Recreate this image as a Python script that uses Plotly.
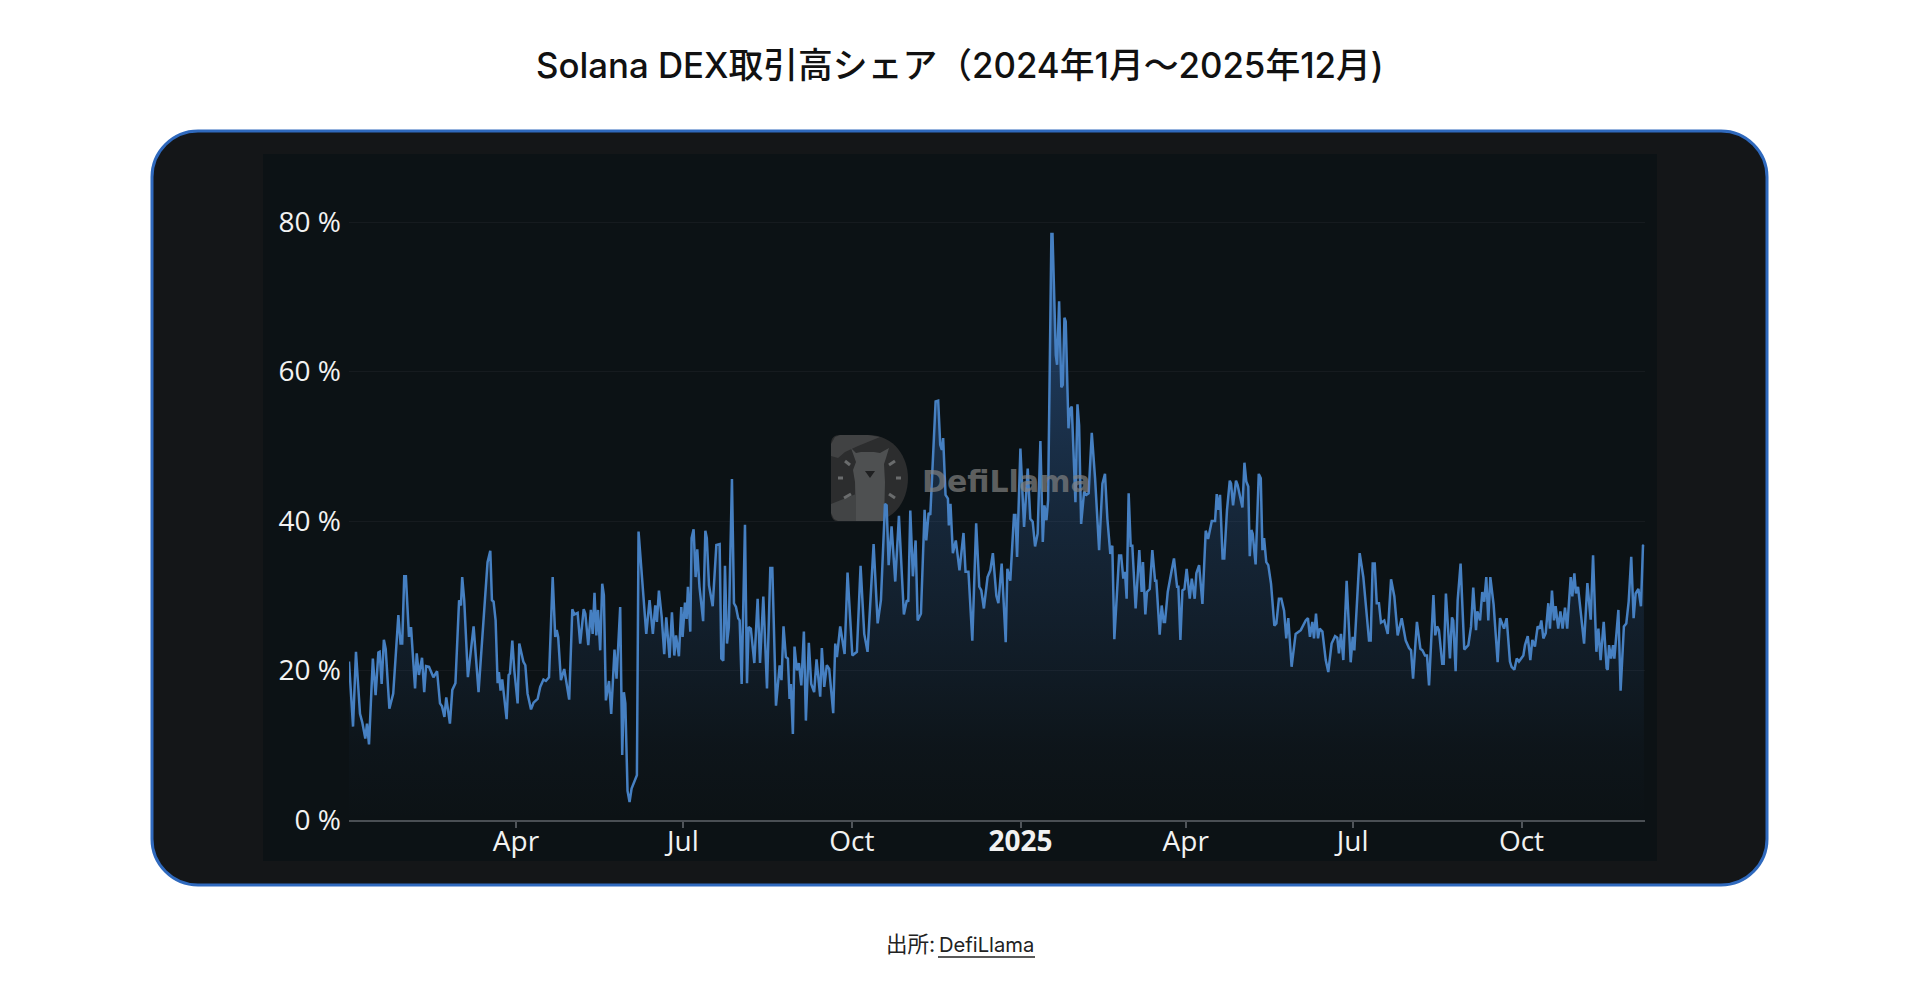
import pandas as pd
import plotly.graph_objects as go

W, H = 1920, 1001

TITLE = "Solana DEX取引高シェア（2024年1月〜2025年12月)"
START = "2024-01-01"
X_TICK_DATES = ["2024-04-01", "2024-07-01", "2024-10-01", "2025-01-01", "2025-04-01", "2025-07-01", "2025-10-01"]
X_TICK_LABELS = ["Apr", "Jul", "Oct", "<b>2025</b>", "Apr", "Jul", "Oct"]
Y_TICK_VALUES = [0, 20, 40, 60, 80]
Y_TICK_LABELS = ["0 %", "20 %", "40 %", "60 %", "80 %"]

days_2024_h1 = [0,2.2,3.8,6,7.2,8.9,9.8,10.9,13,14.5,16,16.7,17.8,19,20,22,24.1,26.9,28.1,29,30.1,31,32.7,33.8,36,36.9,38.1,39.8,41,42,43.6,46,48,49.6,50.7,52,53,55,56.3,58,60,61,61.7,62.8,64.8,66.5,67.9,70.6,73.4,75.5,77,77.9,78.8,79.9,81,81.7,82.6,83.5,85.9,87,87.7,89,90.1,91.9,92.8,95,96.1,97.3,99.2,100.6,102.8,104.2,106,107.3,109,111,112.4,113.2,114,115.5,117.3,120,121.7,122.8,124.6,126,127.9,128.8,130.4,131.8,132.8,133.8,134.8,135.7,136.9,138,138.9,140,141.7,142.9,144.7,145.8,147.8,148.9,149.8,150.6,151.8,152.9,154,155.8,156.9,157.8,159.1,160.4,162,163.8,165.6,166.9,167.8,168.9,170.4,171.8,172.9,174.7,176,177.3,178.2,179.8,181.1,181.8]
share_2024_h1 = [21.2,12.5,22.5,14.2,13.1,10.9,12.9,10.1,21.6,16.7,22.4,22.5,18.2,24.1,22.9,14.9,16.9,27.4,23.6,23.6,32.6,32.6,24.5,25.8,17.6,22.3,19.4,21.7,17.1,20.6,20.5,19.1,19.9,15.6,15.2,13.8,16.4,12.9,17.4,18.3,29.4,28.7,32.5,29.4,19.1,22.9,25.9,17.1,26.7,34.5,36,29.4,29.2,26.7,18.3,19.8,17.3,18.8,13.5,19.4,19.6,24,20,15.6,23.6,21.2,20.7,16.9,14.8,15.7,16.2,17.8,18.8,18.6,19.1,32.5,24.5,25.4,24.5,18.7,20.2,16.1,28.2,27.5,27.7,23.6,28.2,27.6,23.4,28.1,24.9,30.4,24.7,28.1,22.7,31.6,30.1,16,18.6,14.2,22.8,18.9,28.5,8.7,17.1,15.6,3.9,2.4,4.2,5.5,6,38.6,34.3,29.4,24.9,29.4,24.9,28.7,26.5,30.7,27.2,22.2,27.1,21.7,27.8,22,24.7,21.9,28.5,24.5]

days_2024_h2 = [183.1,184,184.7,186,186.7,187.8,188.9,189.8,191,193,194.2,195,196.2,198.2,200.2,202,202.9,204,204.9,206,207,208.7,209.8,210.9,212.1,212.9,214,215.8,216.9,217.8,219,220.9,222.7,224,225.8,227.8,229.6,230.7,232.7,234.7,235.7,236.8,238.1,239.2,240.1,240.8,241.9,242.8,244.1,245.2,246.5,247.9,249,250.6,251.9,253.5,254.8,256.8,257.7,259,260.4,261.7,263.9,265,265.9,267.7,268.6,270.1,271.7,272.8,274.3,276.8,278.8,280.8,282.6,285.9,288.1,289.9,292.1,293,294.1,295.7,297.7,299.7,302.4,304,304.8,305.9,307.3,308.8,309.9,311.7,313.7,314.6,315.9,316.8,318.6,319.7,321.1,322.2,323.1,323.8,325.1,326.4,326.9,327.8,329.1,330.7,332.7,334.9,336,337.6,339.7,341.8,343.5,344.6,346,348,349.5,350.9,352.8,353.9,355.7,357.9,358.8,360.4,362.4,363.2,364.1]
share_2024_h2 = [29.1,26.9,31.2,25.2,37.7,38.9,32.5,36.2,31.2,26.6,38.7,37.7,31.4,28.6,36.8,36.9,21.6,21.3,34,23.6,25.8,45.6,29,28.5,27,26.7,18.2,39.5,18.3,25.8,25.6,21,29.6,21,29.9,17.6,33.7,33.7,15.3,20.7,18.7,25.9,21.8,21.6,16.2,18.2,11.5,23.2,20,21,18,25.2,13.3,23.7,18.2,17.1,21.5,16.5,23,17.8,20.7,20.2,14.3,23.6,21.8,25.9,24.7,22.2,33.1,29,22,22.5,34,24.9,22.5,36.9,26.3,29.4,42.3,42.1,34.1,39.3,31.9,40.7,27.5,29.4,29.2,41.4,32.6,37.4,26.7,27.6,41.5,37.4,41.1,40.8,50.8,56,56.1,50.2,49.5,51.1,43.5,43,39.4,42.3,35.7,37.4,33.4,38.4,33.2,33.2,24,39.7,31.2,30.7,28.3,32.5,33.4,35.7,30,29,34.3,23.8,33.6,32,40.8,40.8,35.2]

days_2025_h1 = [365.9,367.9,369.9,371.3,372.6,373.9,375.3,376.8,378.1,379,380.1,381,382.8,383.4,385.2,385.9,387,388.2,389,389.9,390.6,392.1,393,393.9,395.9,397,397.9,399,400.6,401.9,403.1,404.8,406.6,408.8,410.6,412,413.3,414.9,416,417.1,419.7,420.8,422,422.9,423.8,424.9,426,426.9,428.7,430.7,432,432.7,434,434.9,436.4,437.8,439.3,440,441.8,442.9,444,444.7,446.2,448.2,449.6,451.3,452,453.1,454.2,455.3,456.5,458.2,459.3,460.9,461.8,463.3,465.1,466.9,468.2,470.2,472,472.9,473.8,474.7,476.1,477,478.5,480,480.7,481.8,483.4,484.3,486.9,488,489,490.1,490.9,491.8,492.5,494.1,495.8,496.9,497.8,498.7,499.9,501,502.5,504.3,505.4,506.8,508.1,509.6,510.8,511.9,513.7,515.9,516.8,518.7,521.4,522.6,523.7,525,525.9,527,528.1,529,530.5,532.3,533.7,535.5,537.4,538.6,539.5,540.6,541.9,543.7]
share_2025_h1 = [49.7,39.2,47,40.3,39.9,36.6,38.3,50.7,37.2,42.1,40.1,42.8,78.4,78.4,62.2,60.9,69.4,57.9,58.2,67.2,66.7,52.4,55,55.3,42.5,55.6,52.8,39.6,43.9,43.5,43.7,51.8,45.7,36.1,45,46.3,40.3,35.6,36.7,24.2,35.4,35.4,32.3,33.2,29.6,43.7,36.7,36.7,28.3,36.1,30.5,34.5,27.5,30.5,30.9,36.1,32,32,24.8,28.7,26.5,26.5,30.5,33.2,35,31.2,31.2,24.1,30.7,30.9,33.6,29.6,32.3,29.6,33,34.1,28.9,38.7,37.6,40,40,43.6,41.5,43.5,35,35,41.5,45.4,45,42.1,45.4,44.8,41.8,47.8,45.3,44.6,35.3,38.8,38.3,34.2,46.3,45.7,36.1,37.7,34.5,34.1,31.6,26,26.3,29.6,29.6,28,24.3,27,20.5,24.9,25.1,25.4,26.7,27,24.5,26.5,24.3,27.6,24.3,25.6,25.2,21.4,19.8,23.6,24.6,24.4,22.3,24.9,21.4,32]

days_2025_h2 = [545.9,547,547.9,550.8,552.8,554.3,555.9,556.8,557.9,559,560.1,561.3,562.4,564.2,566.1,567.9,569.7,571.5,573.7,575.9,577.7,578.8,579.9,582,583.9,585,586.4,587.5,588.6,591,592,593,594,595.8,596.6,597.8,600,601.1,601.8,603.1,604.2,605.8,607.8,610,611.5,612.7,614.2,614.9,616.4,617.6,618.7,619.8,620.9,622,623.8,626,627.3,629.5,630.9,632.7,633.6,635.1,636.4,637.6,640,640.9,642.4,643.8,644.9,646.3,647.8,648.9,649.8,650.9,652.2,653.6,654.5,655.6,656.7,657.6,659,660.2,661.4,662.7,663.9,665.8,666.7,667.8,668.7,669.8,671.2,673.1,674.9,676.7,678,679.8,680.9,682.1,683.8,685.4,686,686.7,687.8,688.9,689.6,691.8,693,694.8,696.1,697.4,698.8,700.1,701.2,702.7,704.1,705.2,705.7]
share_2025_h2 = [21.1,24.5,22.7,35.7,32.5,28.5,24,24,34.3,34.3,29,29,26.4,26.7,24.9,32.2,29.9,24.7,27,24,23,22.7,18.9,26.5,22.9,22.7,22,22,18,30.1,24.7,25.9,25.4,20.9,20.9,30.3,21.6,27.1,26.7,19.9,29.4,34.3,22.8,23.4,25.9,31.1,25.4,27.9,26.7,30.5,29.2,32.5,26.7,32.5,28.8,21.1,27,25.6,27,21.2,20.5,20.1,21.6,21.2,22,23.4,24.6,21.4,24.1,23.2,25.9,25.6,26.7,24.3,25,29,25.6,30.7,26.7,28.6,25.6,27.9,25.6,28.4,25.6,32.5,29.9,33,30.3,31.2,28.1,23.6,31.7,26.8,35.4,22.5,25.6,21.4,26.5,20.3,20.1,23.4,21.6,23.4,21.6,28.1,17.3,25.9,26.3,29.2,35.2,27,30.3,30.9,28.6,36.7,36.8]

days = days_2024_h1 + days_2024_h2 + days_2025_h1 + days_2025_h2
share = share_2024_h1 + share_2024_h2 + share_2025_h1 + share_2025_h2
dates = (pd.Timestamp(START) + pd.to_timedelta(days, unit="D")).strftime("%Y-%m-%d %H:%M").tolist()
x_end = (pd.Timestamp(START) + pd.to_timedelta(706.3, unit="D")).strftime("%Y-%m-%d %H:%M")

# page layout, in pixels of the 1920x1001 window
PLOT_L, PLOT_R, PLOT_T, PLOT_B = 349, 1645, 162, 820
Y_MAX = (PLOT_B - PLOT_T) / 7.475

def fx(x):
    return x / W

def fy(y):
    return 1 - y / H

def rounded(l, t, r, b, rad):
    k = rad * 0.45
    pts = [
        f"M {fx(l+rad)},{fy(t)}", f"L {fx(r-rad)},{fy(t)}",
        f"C {fx(r-k)},{fy(t)} {fx(r)},{fy(t+k)} {fx(r)},{fy(t+rad)}",
        f"L {fx(r)},{fy(b-rad)}",
        f"C {fx(r)},{fy(b-k)} {fx(r-k)},{fy(b)} {fx(r-rad)},{fy(b)}",
        f"L {fx(l+rad)},{fy(b)}",
        f"C {fx(l+k)},{fy(b)} {fx(l)},{fy(b-k)} {fx(l)},{fy(b-rad)}",
        f"L {fx(l)},{fy(t+rad)}",
        f"C {fx(l)},{fy(t+k)} {fx(l+k)},{fy(t)} {fx(l+rad)},{fy(t)} Z",
    ]
    return " ".join(pts)

def poly(points):
    return "M " + " L ".join(f"{fx(x)},{fy(y)}" for x, y in points) + " Z"

def pshape(path, fill, line=None, width=0, layer="below"):
    return dict(type="path", xref="paper", yref="paper", path=path, fillcolor=fill,
                line=dict(color=line or fill, width=width), layer=layer)

def pline(x0, y0, x1, y1, color, width):
    return dict(type="line", xref="paper", yref="paper", x0=fx(x0), y0=fy(y0), x1=fx(x1), y1=fy(y1),
                line=dict(color=color, width=width), layer="below")

shapes = [
    pshape(rounded(152, 131, 1767, 885, 46), "#141618", "#2f69bd", 3),
    dict(type="rect", xref="paper", yref="paper", x0=fx(263), x1=fx(1657), y0=fy(861), y1=fy(154),
         fillcolor="#0c1215", line=dict(width=0), layer="below"),
    # watermark
    pshape(f"M {fx(840)},{fy(435)} L {fx(868)},{fy(435)} C {fx(895)},{fy(435)} {fx(908)},{fy(458)} {fx(908)},{fy(478)} "
           f"C {fx(908)},{fy(500)} {fx(895)},{fy(522)} {fx(868)},{fy(522)} L {fx(840)},{fy(522)} "
           f"C {fx(834)},{fy(522)} {fx(831)},{fy(518)} {fx(831)},{fy(513)} L {fx(831)},{fy(444)} "
           f"C {fx(831)},{fy(438)} {fx(834)},{fy(435)} {fx(840)},{fy(435)} Z", "#2c2d2e"),
    pshape(poly([(831, 444), (835, 437), (840, 435), (868, 435), (880, 437), (858, 446), (845, 452), (838, 458), (831, 456)]), "#414243"),
    pshape(poly([(851, 448), (856, 453), (861, 452), (874, 452), (880, 453), (889, 448), (886, 458), (884, 464),
                 (885, 482), (884, 522), (856, 522), (855, 482), (853, 470), (856, 462)]), "#4e5051"),
    pshape(poly([(831, 504), (856, 494), (856, 522), (840, 522), (834, 519), (831, 513)]), "#424445"),
    pline(845, 461, 850, 465, "#6a6c6d", 3),
    pline(838, 478, 843, 478, "#6a6c6d", 3),
    pline(844, 498, 851, 494, "#6a6c6d", 3),
    pline(889, 465, 895, 461, "#6a6c6d", 3),
    pline(896, 478, 901, 478, "#6a6c6d", 3),
    pline(889, 494, 895, 498, "#6a6c6d", 3),
    pshape(poly([(865, 471), (875, 471), (870, 478)]), "#1f2021"),
    # source underline
    pline(938, 957, 1035, 957, "#222222", 1.5),
]

CJK = "Inter, 'Noto Sans CJK JP', sans-serif"
annotations = [
    dict(text=TITLE, xref="paper", yref="paper", x=fx(960), y=fy(65), showarrow=False, xanchor="center",
         yanchor="middle", font=dict(family=CJK, size=34.8, color="#111111", weight=500)),
    dict(text="出所:", xref="paper", yref="paper", x=fx(937), y=fy(944), showarrow=False, xanchor="right",
         yanchor="middle", font=dict(family=CJK, size=21.5, color="#222222")),
    dict(text="DefiLlama", xref="paper", yref="paper", x=fx(937), y=fy(944), showarrow=False, xanchor="left",
         yanchor="middle", font=dict(family=CJK, size=20.2, color="#222222")),
    dict(text="<b>DefiLlama</b>", xref="paper", yref="paper", x=fx(1006), y=fy(481), showarrow=False,
         xanchor="center", yanchor="middle", font=dict(family="'DejaVu Sans'", size=30, color="rgba(130,130,130,0.7)")),
]

fig = go.Figure(
    go.Scatter(
        x=dates, y=share, mode="lines", line=dict(color="#4680c2", width=2.5), fill="tozeroy",
        fillgradient=dict(type="vertical", start=0, stop=80,
                          colorscale=[[0, "rgba(60,120,200,0.0)"], [0.125, "rgba(60,120,200,0.03)"],
                                      [0.25, "rgba(60,120,200,0.09)"], [0.5, "rgba(60,120,200,0.20)"],
                                      [0.75, "rgba(60,120,200,0.35)"], [1, "rgba(60,120,200,0.55)"]]),
        hoverinfo="skip", showlegend=False,
    )
)
fig.update_layout(
    width=W, height=H, autosize=False, margin=dict(l=0, r=0, t=0, b=0, pad=0),
    paper_bgcolor="#ffffff", plot_bgcolor="rgba(0,0,0,0)", shapes=shapes, annotations=annotations,
    showlegend=False,
    xaxis=dict(domain=[fx(PLOT_L), fx(PLOT_R)], range=[START, x_end], type="date", automargin=False,
               tickvals=X_TICK_DATES, ticktext=X_TICK_LABELS, tickmode="array",
               ticks="outside", ticklen=6, tickcolor="#50555a", tickwidth=1.5,
               showline=True, linecolor="#4a4f54", linewidth=1.5, showgrid=False, zeroline=False,
               tickfont=dict(family="'Open Sans'", size=28, color="#f2f2f2"), ticklabelstandoff=-10),
    yaxis=dict(domain=[fy(PLOT_B), fy(PLOT_T)], range=[0, Y_MAX], tickmode="array", automargin=False,
               tickvals=Y_TICK_VALUES, ticktext=Y_TICK_LABELS, ticks="", showline=False,
               showgrid=True, gridcolor="#161b1f", gridwidth=1, zeroline=False, ticklabelstandoff=7,
               tickfont=dict(family="'Open Sans'", size=28, color="#f2f2f2")),
)
fig.write_html("out.html", config={"displayModeBar": False},
               post_script="document.body.style.margin='0';document.documentElement.style.overflow='hidden';")
